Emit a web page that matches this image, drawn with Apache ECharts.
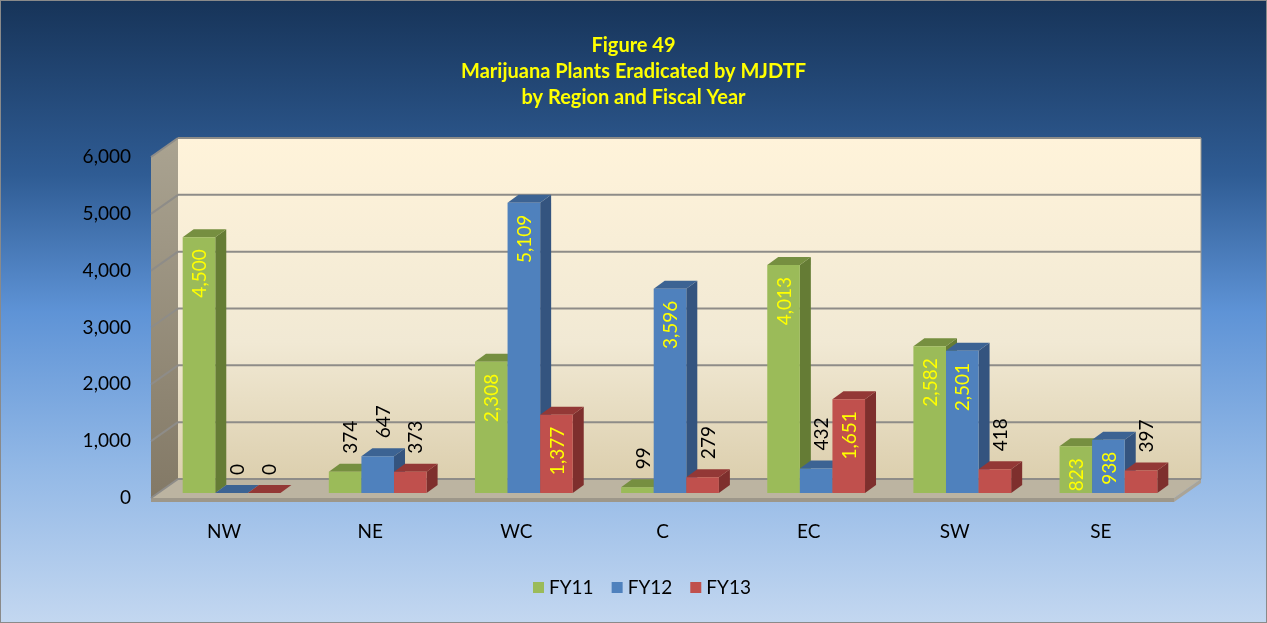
<!DOCTYPE html>
<html>
<head>
<meta charset="utf-8">
<style>
  html, body { margin: 0; padding: 0; }
  #chart {
    width: 1265px; height: 621px;
    border: 1px solid #8a8a8a;
    background: linear-gradient(to bottom, #173459 0%, #2f5c94 28%, #5e93d6 50%, #92b8e6 75%, #c3d7f0 100%);
  }
</style>
<script src="https://cdn.jsdelivr.net/npm/echarts@6/dist/echarts.min.js"></script>
</head>
<body>
<div id="chart"></div>
<script>
  // data
  const regions = ['NW', 'NE', 'WC', 'C', 'EC', 'SW', 'SE'];
  const fyNames = ['FY11', 'FY12', 'FY13'];
  const fy11 = [4500, 374, 2308, 99, 4013, 2582, 823];
  const fy12 = [0, 647, 5109, 3596, 432, 2501, 938];
  const fy13 = [0, 373, 1377, 279, 1651, 418, 397];
  const yTicks = [0, 1000, 2000, 3000, 4000, 5000, 6000];

  // front / side / top colours of each series
  const palette = [
    { front: '#9bbb59', side: '#657c35', top: '#768f40' },
    { front: '#4f81bd', side: '#34547f', top: '#3c6393' },
    { front: '#c0504d', side: '#7e2f2d', top: '#933836' }
  ];

  const WALL_DX = 27, WALL_DY = -19;   // depth of the box
  const BAR_SX = 7.5, BAR_SY = -5;     // bars sit a bit behind the front edge
  const BAR_DX = 11, BAR_DY = -8;      // depth of each bar
  const font = '19px Lato';

  const chart = echarts.init(document.getElementById('chart'));

  function fmt(v) {
    return v.toLocaleString('en-US');
  }

  function renderWalls(params, api) {
    const cs = params.coordSys;
    const x0 = cs.x, x1 = cs.x + cs.width;
    const yb = api.coord([0, 0])[1];
    const yt = api.coord([0, yTicks[yTicks.length - 1]])[1];
    const children = [];
    // back wall
    children.push({
      type: 'rect',
      shape: { x: x0 + WALL_DX, y: yt + WALL_DY, width: x1 - x0, height: yb - yt },
      style: {
        fill: new echarts.graphic.LinearGradient(0, 0, 0, 1, [
          { offset: 0, color: '#fff3da' },
          { offset: 0.6, color: '#f1e9d4' },
          { offset: 1, color: '#dccfae' }
        ])
      }
    });
    // left side wall
    children.push({
      type: 'polygon',
      shape: { points: [[x0, yt], [x0 + WALL_DX, yt + WALL_DY], [x0 + WALL_DX, yb + WALL_DY], [x0, yb]] },
      style: {
        fill: new echarts.graphic.LinearGradient(0, 0, 0, 1, [
          { offset: 0, color: '#aaa391' },
          { offset: 1, color: '#837966' }
        ])
      }
    });
    // floor
    children.push({
      type: 'polygon',
      shape: { points: [[x0, yb], [x1, yb], [x1 + WALL_DX, yb + WALL_DY], [x0 + WALL_DX, yb + WALL_DY]] },
      style: { fill: '#bcb4a1' }
    });
    // floor thickness
    children.push({
      type: 'polygon',
      shape: { points: [[x0, yb], [x1, yb], [x1, yb + 4], [x0, yb + 4]] },
      style: { fill: '#9d978a' }
    });
    children.push({
      type: 'polygon',
      shape: { points: [[x1, yb], [x1 + WALL_DX, yb + WALL_DY], [x1 + WALL_DX, yb + WALL_DY + 4], [x1, yb + 4]] },
      style: { fill: '#aaa497' }
    });
    // gridlines on back and side walls
    yTicks.forEach(function (v) {
      const y = api.coord([0, v])[1];
      children.push({
        type: 'line',
        shape: { x1: x0 + WALL_DX, y1: y + WALL_DY, x2: x1 + WALL_DX, y2: y + WALL_DY },
        style: { stroke: '#8e8c88', lineWidth: 2 }
      });
      children.push({
        type: 'line',
        shape: { x1: x0, y1: y, x2: x0 + WALL_DX, y2: y + WALL_DY },
        style: { stroke: '#8e8c88', lineWidth: 2 }
      });
    });
    // wall edges
    children.push({
      type: 'line',
      shape: { x1: x1 + WALL_DX, y1: yt + WALL_DY, x2: x1 + WALL_DX, y2: yb + WALL_DY },
      style: { stroke: '#9a978f', lineWidth: 1 }
    });
    return { type: 'group', children: children };
  }

  function makeBarRenderer(s) {
    const c = palette[s];
    return function (params, api) {
      const i = api.value(0), v = api.value(1);
      const base = api.coord([i, 0]);
      const top = api.coord([i, v]);
      const band = api.size([1, 0])[0];
      const w = band * 0.223;
      const xl = base[0] + BAR_SX + (s - 1.5) * w;
      const xr = xl + w;
      const yb = base[1] + BAR_SY;
      const yt = top[1] + BAR_SY;
      const children = [
        {
          type: 'polygon',
          shape: { points: [[xr, yb], [xr + BAR_DX, yb + BAR_DY], [xr + BAR_DX, yt + BAR_DY], [xr, yt]] },
          style: { fill: c.side }
        },
        {
          type: 'polygon',
          shape: { points: [[xl, yt], [xr, yt], [xr + BAR_DX, yt + BAR_DY], [xl + BAR_DX, yt + BAR_DY]] },
          style: { fill: c.top }
        },
        {
          type: 'rect',
          shape: { x: xl, y: yt, width: w, height: yb - yt },
          style: { fill: c.front }
        }
      ];
      const xc = (xl + xr) / 2;
      if (v >= 800) {
        children.push({
          type: 'text', x: xc + 1, y: yt + 12, rotation: Math.PI / 2,
          style: { text: fmt(v), fill: '#ffff00', font: font, align: 'right', verticalAlign: 'middle' }
        });
      } else {
        children.push({
          type: 'text', x: xc + 6, y: yt + BAR_DY - 10, rotation: Math.PI / 2,
          style: { text: fmt(v), fill: '#000000', font: font, align: 'left', verticalAlign: 'middle' }
        });
      }
      return { type: 'group', children: children };
    };
  }

  const seriesData = [fy11, fy12, fy13];

  const option = {
    animation: false,
    title: {
      text: 'Figure 49\nMarijuana Plants Eradicated by MJDTF\nby Region and Fiscal Year',
      left: 'center',
      top: 27,
      textStyle: {
        color: '#ffff00',
        fontFamily: 'Lato',
        fontWeight: 'bold',
        fontSize: 20,
        lineHeight: 26
      }
    },
    legend: {
      data: fyNames,
      left: 527,
      top: 572,
      icon: 'rect',
      itemWidth: 11,
      itemHeight: 11,
      itemGap: 18,
      textStyle: { color: '#000', fontFamily: 'Lato', fontSize: 19 }
    },
    grid: {
      left: 150,
      right: 92,
      top: 156,
      bottom: 124
    },
    xAxis: {
      type: 'category',
      data: regions,
      axisLine: { show: false },
      axisTick: { show: false },
      axisLabel: { color: '#000', fontFamily: 'Lato', fontSize: 19, margin: 24 }
    },
    yAxis: {
      type: 'value',
      min: 0,
      max: 6000,
      interval: 1000,
      axisLine: { show: false },
      axisTick: { show: false },
      splitLine: { show: false },
      axisLabel: {
        color: '#000', fontFamily: 'Lato', fontSize: 19, margin: 20,
        formatter: function (v) { return fmt(v); }
      }
    },
    series: [
      {
        name: 'walls',
        type: 'custom',
        silent: true,
        z: 1,
        clip: false,
        renderItem: renderWalls,
        data: [[0, 0]]
      }
    ].concat(fyNames.map(function (name, s) {
      return {
        name: name,
        type: 'custom',
        silent: true,
        z: 2,
        clip: false,
        itemStyle: { color: palette[s].front },
        renderItem: makeBarRenderer(s),
        data: seriesData[s].map(function (v, i) { return [i, v]; })
      };
    }))
  };

  chart.setOption(option);
</script>
</body>
</html>
